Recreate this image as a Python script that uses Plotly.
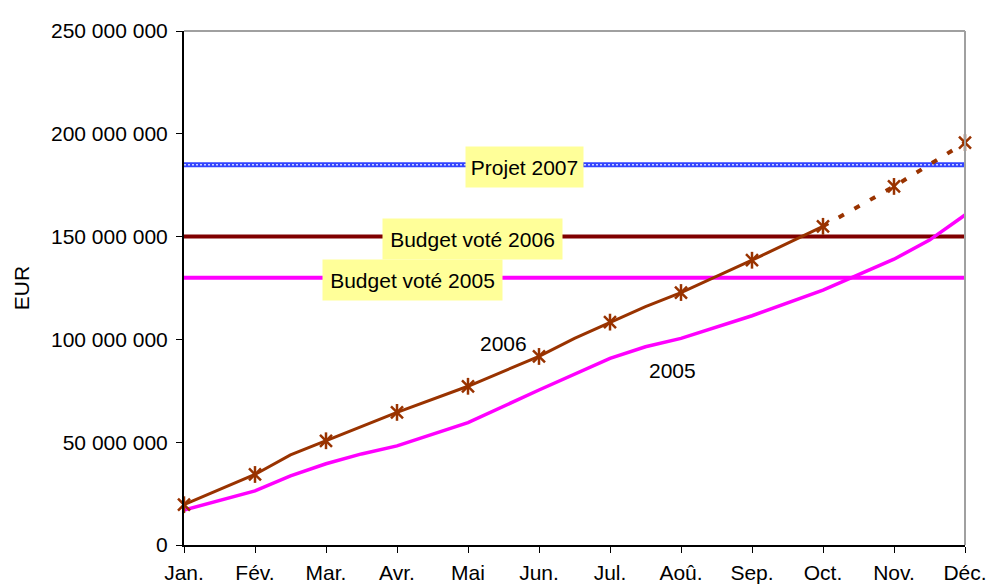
import plotly.graph_objects as go

# Month labels on the category axis
months = ["Jan.", "Fév.", "Mar.", "Avr.", "Mai", "Jun.", "Jul.", "Aoû.", "Sep.", "Oct.", "Nov.", "Déc."]

# Cumulative spending 2006 (EUR), position in months from January
pos_2006 = [0, 1, 1.5, 2, 3, 4, 5, 5.5, 6, 6.5, 7, 8, 9, 10, 11]
val_2006 = [19.6e6, 34.3e6, 43.8e6, 50.7e6, 64.5e6, 77.2e6, 91.7e6, 100.5e6, 108.4e6,
            115.9e6, 122.8e6, 138.5e6, 155.0e6, 174.4e6, 195.7e6]
# index from which the 2006 values are a projection (drawn dashed)
proj_start = 12

# Monthly markers on the 2006 curve
mark_pos_2006 = [0, 1, 2, 3, 4, 5, 6, 7, 8, 9, 10, 11]
mark_val_2006 = [19.6e6, 34.3e6, 50.7e6, 64.5e6, 77.2e6, 91.7e6, 108.4e6, 122.8e6,
                 138.5e6, 155.0e6, 174.4e6, 195.7e6]

# Cumulative spending 2005 (EUR)
pos_2005 = [0, 1, 1.5, 2, 2.5, 3, 4, 5, 6, 6.5, 7, 8, 9, 10, 10.5, 11]
val_2005 = [17.0e6, 26.3e6, 33.6e6, 39.5e6, 44.3e6, 48.2e6, 59.5e6, 75.4e6, 90.8e6,
            96.4e6, 100.5e6, 111.5e6, 124.0e6, 139.0e6, 148.3e6, 160.5e6]

# Budget reference levels (EUR)
budget_labels = ["Projet 2007", "Budget voté 2006", "Budget voté 2005"]
budget_values = [185e6, 150e6, 130e6]
budget_label_pos = [4.79, 4.07, 3.22]

# Y axis ticks
y_ticks = [0, 50e6, 100e6, 150e6, 200e6, 250e6]
y_tick_text = ["0", "50 000 000", "100 000 000", "150 000 000", "200 000 000", "250 000 000"]

FONT = "Liberation Sans, Arial, sans-serif"
FS = 21
BROWN = "#993300"
MAGENTA = "#ff00ff"
MAROON = "#800000"
BLUE = "#3344ff"

fig = go.Figure()

# Budget lines
fig.add_trace(go.Scatter(x=[0, 11], y=[budget_values[2]] * 2, mode="lines",
                         line=dict(color=MAGENTA, width=4), hoverinfo="skip"))
fig.add_trace(go.Scatter(x=[0, 11], y=[budget_values[1]] * 2, mode="lines",
                         line=dict(color=MAROON, width=4), hoverinfo="skip"))
fig.add_trace(go.Scatter(x=[0, 11], y=[budget_values[0]] * 2, mode="lines",
                         line=dict(color=BLUE, width=5), hoverinfo="skip"))
fig.add_trace(go.Scatter(x=[0, 11], y=[budget_values[0]] * 2, mode="lines",
                         line=dict(color="#ccd4ff", width=1.5, dash="2px,2px"), hoverinfo="skip"))

# 2005 curve
fig.add_trace(go.Scatter(x=pos_2005, y=val_2005, mode="lines",
                         line=dict(color=MAGENTA, width=3.5), cliponaxis=False))

# 2006 curve: actual (solid) then projection (dashed)
fig.add_trace(go.Scatter(x=pos_2006[:proj_start + 1], y=val_2006[:proj_start + 1], mode="lines",
                         line=dict(color=BROWN, width=3), cliponaxis=False))
fig.add_trace(go.Scatter(x=pos_2006[proj_start:], y=val_2006[proj_start:], mode="lines",
                         line=dict(color=BROWN, width=4, dash="6px,12px"), cliponaxis=False))

# Star-shaped markers (x plus vertical bar)
for sym in ["x-thin-open", "line-ns-open"]:
    fig.add_trace(go.Scatter(x=mark_pos_2006, y=mark_val_2006, mode="markers",
                             marker=dict(symbol=sym, size=12, color=BROWN,
                                         line=dict(color=BROWN, width=2.5)),
                             cliponaxis=False))

annotations = []
box_widths = [117, 179, 179]
for lbl, val, xp, w in zip(budget_labels, budget_values, budget_label_pos, box_widths):
    annotations.append(dict(x=xp, y=val, xref="x", yref="y", text=lbl, showarrow=False,
                            font=dict(family=FONT, size=FS, color="black"),
                            bgcolor="#ffff99", width=w, height=40, borderpad=0,
                            align="center", valign="middle", yshift=-2))

annotations.append(dict(x=4.50, y=98.2e6, xref="x", yref="y", text="2006", showarrow=False,
                        font=dict(family=FONT, size=FS, color="black")))
annotations.append(dict(x=6.88, y=85.1e6, xref="x", yref="y", text="2005", showarrow=False,
                        font=dict(family=FONT, size=FS, color="black")))

fig.update_layout(
    width=988, height=588,
    margin=dict(l=184, r=23, t=31, b=43),
    paper_bgcolor="white", plot_bgcolor="white",
    showlegend=False,
    font=dict(family=FONT, size=FS, color="black"),
    annotations=annotations,
    shapes=[
        dict(type="line", xref="paper", yref="paper", x0=0, x1=1, y0=1, y1=1,
             line=dict(color="#a0a0a0", width=2)),
        dict(type="line", xref="paper", yref="paper", x0=1, x1=1, y0=0, y1=1,
             line=dict(color="#a0a0a0", width=2)),
    ],
)

fig.update_xaxes(range=[0, 11], tickvals=list(range(len(months))), ticktext=months,
                 automargin=False,
                 showgrid=False, zeroline=False, showline=True, linecolor="black", linewidth=2,
                 ticks="outside", ticklen=6, tickcolor="black", tickwidth=1,
                 ticklabelstandoff=2, tickfont=dict(family=FONT, size=FS))
fig.update_yaxes(range=[0, 250e6], tickvals=y_ticks, ticktext=y_tick_text,
                 automargin=False,
                 showgrid=False, zeroline=False, showline=True, linecolor="black", linewidth=2,
                 ticks="outside", ticklen=6, tickcolor="black", tickwidth=1,
                 ticklabelstandoff=4, tickfont=dict(family=FONT, size=FS),
                 title=dict(text="EUR", font=dict(family=FONT, size=FS), standoff=16))

fig.write_html("out.html")
